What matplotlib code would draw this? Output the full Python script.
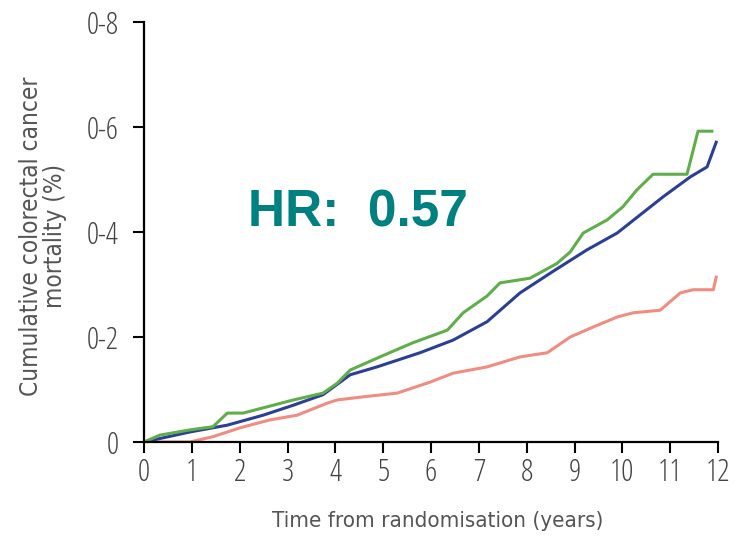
import matplotlib
matplotlib.use('Agg')
import matplotlib.pyplot as plt

# years, cumulative mortality (%)
green_x = [0, 0.33, 0.96, 1.44, 1.74, 2.07, 2.49, 3.12, 3.74, 4.04, 4.31, 4.93, 5.62, 6.34,
           6.67, 7.17, 7.44, 8.07, 8.63, 8.91, 9.18, 9.68, 10.01, 10.30, 10.64, 11.35, 11.58, 11.87]
green_y = [0, 0.013, 0.023, 0.029, 0.055, 0.055, 0.065, 0.080, 0.093, 0.112, 0.137, 0.162, 0.189, 0.213,
           0.246, 0.278, 0.303, 0.312, 0.340, 0.362, 0.398, 0.423, 0.448, 0.480, 0.510, 0.510, 0.592, 0.592]

blue_x = [0, 0.96, 1.74, 2.49, 3.12, 3.74, 4.31, 4.87, 5.77, 6.46, 7.17, 7.86, 8.55,
          9.26, 9.89, 10.85, 11.42, 11.77, 11.96]
blue_y = [0, 0.019, 0.032, 0.051, 0.070, 0.090, 0.128, 0.143, 0.170, 0.194, 0.229, 0.284, 0.325,
          0.366, 0.398, 0.467, 0.505, 0.524, 0.571]

red_x = [0, 0.96, 1.44, 2.01, 2.63, 3.20, 3.83, 4.04, 4.58, 5.29, 5.98, 6.46, 7.17, 7.86,
         8.43, 8.91, 9.39, 9.89, 10.22, 10.79, 11.21, 11.48, 11.90, 11.96]
red_y = [0, 0, 0.010, 0.027, 0.042, 0.051, 0.074, 0.080, 0.086, 0.093, 0.114, 0.131, 0.143, 0.162,
         0.170, 0.200, 0.219, 0.238, 0.246, 0.251, 0.284, 0.290, 0.290, 0.314]

xticks = list(range(0, 13))
yticks = [0, 0.2, 0.4, 0.6, 0.8]
ytick_labels = ['0', '0-2', '0-4', '0-6', '0-8']

tick_font = ['Open Sans', 'DejaVu Sans']
label_font = ['DejaVu Sans']
grey = '#444444'

fig = plt.figure(figsize=(7.35, 5.37), dpi=100)
ax = fig.add_axes([0.196, 0.177, 0.781, 0.782])

ax.plot(red_x, red_y, color='#f08c80', lw=2.2)
ax.plot(blue_x, blue_y, color='#2b3f94', lw=2.2)
ax.plot(green_x, green_y, color='#5fae4a', lw=2.2)

ax.set_xlim(0, 12)
ax.set_ylim(0, 0.8)
ax.set_xticks(xticks)
ax.set_xticklabels([str(t) for t in xticks], family=tick_font, stretch='condensed',
                   fontsize=22, color=grey)
ax.set_yticks(yticks)
ax.set_yticklabels(ytick_labels, family=tick_font, stretch='condensed', fontsize=22, color=grey)
ax.tick_params(axis='x', direction='out', length=8, width=1.5, pad=3)
ax.tick_params(axis='y', direction='out', length=8, width=1.5, pad=10)

for s in ['top', 'right']:
    ax.spines[s].set_visible(False)
for s in ['left', 'bottom']:
    ax.spines[s].set_linewidth(1.6)

fig.text(0.058, 0.56, 'Cumulative colorectal cancer\nmortality (%)', rotation=90,
         ha='center', va='center', family=label_font, stretch='condensed', fontsize=17.5,
         color='#555555', linespacing=1.0, multialignment='center')
fig.text(0.595, 0.030, 'Time from randomisation (years)', ha='center', va='center',
         family=label_font, stretch='condensed', fontsize=16, color='#555555')

ax.text(2.17, 0.437, 'HR:  0.57', ha='left', va='center', fontsize=37,
        fontweight='bold', family=['Liberation Sans', 'DejaVu Sans'], color='#008080')

plt.savefig('out.png')
